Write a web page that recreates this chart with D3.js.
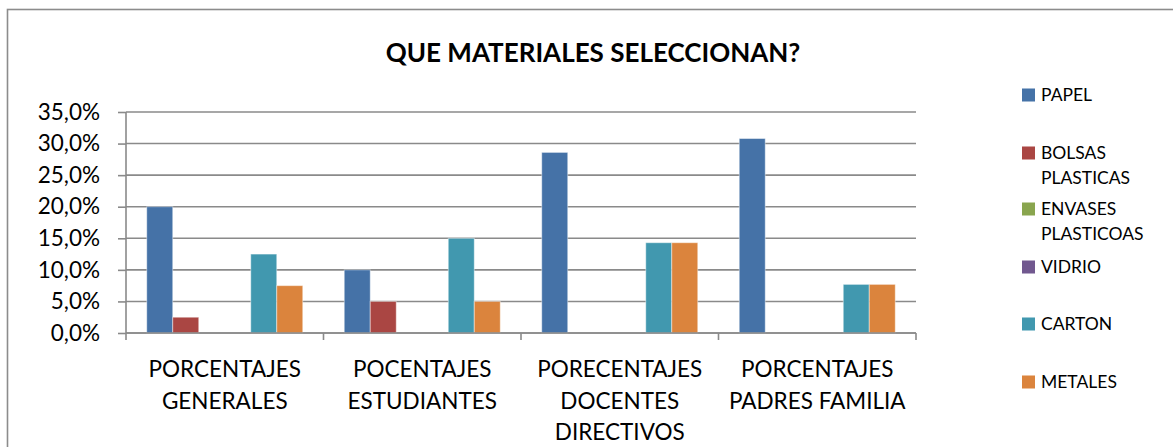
<!DOCTYPE html>
<html lang="es">
<head>
<meta charset="utf-8">
<title>QUE MATERIALES SELECCIONAN?</title>
<script src="https://d3js.org/d3.v7.min.js"></script>
<style>
  body { margin: 0; background: #fff; }
  svg text { font-family: Lato, "Open Sans", sans-serif; fill: #000; }
  .grid line { stroke: #8a8a8a; stroke-width: 1.6; }
  .axis path, .axis line { stroke: #8a8a8a; stroke-width: 1.6; }
</style>
</head>
<body>
<script>
// datos
var categorias = ["PORCENTAJES\nGENERALES", "POCENTAJES\nESTUDIANTES", "PORECENTAJES\nDOCENTES\nDIRECTIVOS", "PORCENTAJES\nPADRES FAMILIA"];
var series = ["PAPEL", "BOLSAS PLASTICAS", "ENVASES PLASTICOAS", "VIDRIO", "CARTON", "METALES"];
var colores = ["#4572A7", "#AA4643", "#89A54E", "#71588F", "#4198AF", "#DB843D"];
// valores en %, una fila por serie
var papel    = [20.0, 10.0, 28.6, 30.8];
var bolsas   = [2.5, 5.0, 0, 0];
var envases  = [0, 0, 0, 0];
var vidrio   = [0, 0, 0, 0];
var carton   = [12.5, 15.0, 14.3, 7.7];
var metales  = [7.5, 5.0, 14.3, 7.7];
var valores = [papel, bolsas, envases, vidrio, carton, metales];
var yTicks = [0, 5, 10, 15, 20, 25, 30, 35];
var titulo = "QUE MATERIALES SELECCIONAN?";

var W = 1173, H = 447;
var margin = {top: 112, left: 126, right: W - 916, bottom: H - 333};
var width = W - margin.left - margin.right;
var height = H - margin.top - margin.bottom;

var svg = d3.select("body").append("svg").attr("width", W).attr("height", H);

// marco exterior
svg.append("rect").attr("x", 7.5).attr("y", 9.5).attr("width", W).attr("height", H)
  .attr("fill", "none").attr("stroke", "#8c8c8c").attr("stroke-width", 1.6);

svg.append("text").attr("x", 593).attr("y", 62).attr("text-anchor", "middle")
  .style("font-weight", "bold").style("font-size", "26px").text(titulo);

var g = svg.append("g").attr("transform", "translate(" + margin.left + "," + margin.top + ")");

var x0 = d3.scaleBand().domain(d3.range(categorias.length)).range([0, width]);
var gap = x0.bandwidth() * 0.105;
var x1 = d3.scaleBand().domain(d3.range(series.length)).range([gap, x0.bandwidth() - gap]);
var y = d3.scaleLinear().domain([0, 35]).range([height, 0]);

// lineas de division
g.append("g").attr("class", "grid")
  .selectAll("line").data(yTicks).enter().append("line")
  .attr("x1", 0).attr("x2", width)
  .attr("y1", function(d) { return y(d); }).attr("y2", function(d) { return y(d); });

var yAxis = d3.axisLeft(y).tickValues(yTicks).tickSize(8).tickPadding(18)
  .tickFormat(function(d) { return d3.format(".1f")(d).replace(".", ",") + "%"; });
var yg = g.append("g").attr("class", "axis").call(yAxis);
yg.select(".domain").remove();
yg.selectAll("text").style("font-size", "22.5px");
g.append("line").attr("x1", 0).attr("x2", 0).attr("y1", 0).attr("y2", height)
  .attr("stroke", "#8a8a8a").attr("stroke-width", 1.6);

// barras
var grupos = g.selectAll(".grupo").data(categorias).enter().append("g")
  .attr("transform", function(d, i) { return "translate(" + x0(i) + ",0)"; });
grupos.selectAll("rect")
  .data(function(d, i) { return valores.map(function(v, s) { return {s: s, v: v[i]}; }); })
  .enter().append("rect")
  .filter(function(d) { return d.v > 0; })
  .attr("x", function(d) { return x1(d.s); })
  .attr("width", x1.bandwidth())
  .attr("y", function(d) { return y(d.v); })
  .attr("height", function(d) { return height - y(d.v); })
  .attr("fill", function(d) { return colores[d.s]; })
  .attr("stroke", "rgba(255,255,255,0.45)").attr("stroke-width", 1);

// eje de categorias
var xg = g.append("g").attr("class", "axis").attr("transform", "translate(0," + height + ")");
xg.append("line").attr("x1", 0).attr("x2", width);
xg.selectAll(".tk").data(d3.range(categorias.length + 1)).enter().append("line")
  .attr("x1", function(i) { return i < categorias.length ? x0(i) : width; })
  .attr("x2", function(i) { return i < categorias.length ? x0(i) : width; })
  .attr("y1", 0).attr("y2", 7);
xg.selectAll(".lbl").data(categorias).enter().append("text")
  .attr("text-anchor", "middle").style("font-size", "22.5px")
  .attr("transform", function(d, i) { return "translate(" + (x0(i) + x0.bandwidth() / 2) + ",44)"; })
  .selectAll("tspan").data(function(d) { return d.split("\n"); }).enter().append("tspan")
  .attr("x", 0).attr("y", function(d, i) { return i * 31.6; }).text(function(d) { return d; });

// leyenda
var leyY = [95, 153, 209, 267, 324, 382];
var ley = svg.append("g").selectAll("g").data(series).enter().append("g")
  .attr("transform", function(d, i) { return "translate(1022," + leyY[i] + ")"; });
ley.append("rect").attr("x", 0).attr("y", -6.5).attr("width", 13).attr("height", 13)
  .attr("fill", function(d, i) { return colores[i]; });
ley.append("text").style("font-size", "17.5px")
  .selectAll("tspan").data(function(d) { return d.split(" "); }).enter().append("tspan")
  .attr("x", 19).attr("y", function(d, i) { return 6 + i * 25; }).text(function(d) { return d; });
</script>
</body>
</html>
